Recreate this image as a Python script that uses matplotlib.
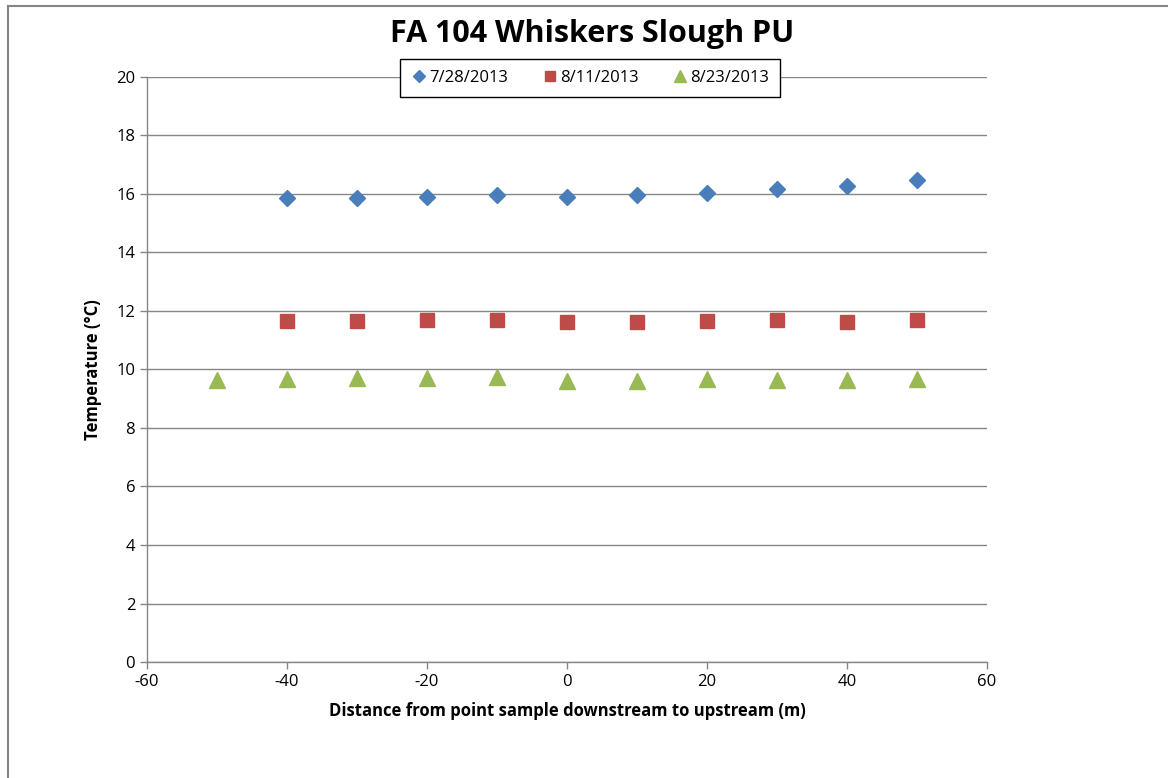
import numpy as np
import matplotlib.pyplot as plt
from matplotlib.lines import Line2D

# data
dist = [-40, -30, -20, -10, 0, 10, 20, 30, 40, 50]
dist_0823 = [-50, -40, -30, -20, -10, 0, 10, 20, 30, 40, 50]
t_0728 = [15.88, 15.88, 15.89, 15.95, 15.90, 15.95, 16.03, 16.16, 16.29, 16.48]
t_0811 = [11.66, 11.65, 11.69, 11.68, 11.64, 11.63, 11.66, 11.68, 11.64, 11.68]
t_0823 = [9.63, 9.66, 9.71, 9.72, 9.75, 9.62, 9.60, 9.66, 9.65, 9.64, 9.66]
labels = ['7/28/2013', '8/11/2013', '8/23/2013']

plt.rcParams['font.family'] = ['Open Sans', 'DejaVu Sans']
plt.rcParams['axes.unicode_minus'] = False

W, H = 1168, 778
fig = plt.figure(figsize=(W/100, H/100), dpi=100)
ax = fig.add_axes([147/W, 1-662/H, 840/W, 585/H])

grey = '#868686'
ax.plot(dist, t_0728, ls='none', marker='D', ms=8.5, color='#4a7ebb', label=labels[0])
ax.plot(dist, t_0811, ls='none', marker='s', ms=10.5, color='#be4b48', label=labels[1])
ax.plot(dist_0823, t_0823, ls='none', marker='^', ms=11, color='#98b954', label=labels[2])

ax.set_xlim(-60, 60)
ax.set_ylim(0, 20)
ax.set_xticks(np.arange(-60, 61, 20))
ax.set_yticks(np.arange(0, 21, 2))
ax.grid(axis='y', color=grey, lw=1)
ax.set_axisbelow(True)
for s in ['top', 'right']:
    ax.spines[s].set_visible(False)
for s in ['left', 'bottom']:
    ax.spines[s].set_color(grey)
    ax.spines[s].set_linewidth(1)
ax.tick_params(axis='both', colors=grey, labelcolor='black', labelsize=12, length=5, width=1)
ax.tick_params(axis='x', pad=4)

ax.set_xlabel('Distance from point sample downstream to upstream (m)', fontsize=12, fontweight='bold', labelpad=8)
ax.set_ylabel('Temperature (°C)', fontsize=12, fontweight='bold', labelpad=10)
fig.text(592/W, 1-34/H, 'FA 104 Whiskers Slough PU', fontsize=22, fontweight='bold', ha='center', va='center')

leg = ax.legend(loc='center', bbox_to_anchor=(590/W, 1-78/H), bbox_transform=fig.transFigure,
                ncol=3, frameon=True, fancybox=False, fontsize=12, handletextpad=0.1,
                columnspacing=2.0, borderpad=0.65, handlelength=1.0, markerscale=0.75)
leg.get_frame().set_edgecolor('black')
leg.get_frame().set_linewidth(1)
leg.get_frame().set_alpha(1)

# chart border (only top and left visible)
fig.add_artist(Line2D([7.5/W, 1], [1-5.5/H, 1-5.5/H], color=grey, lw=1.5, transform=fig.transFigure))
fig.add_artist(Line2D([7.5/W, 7.5/W], [0, 1-5.5/H], color=grey, lw=1.5, transform=fig.transFigure))

fig.savefig('out.png', dpi=100)
